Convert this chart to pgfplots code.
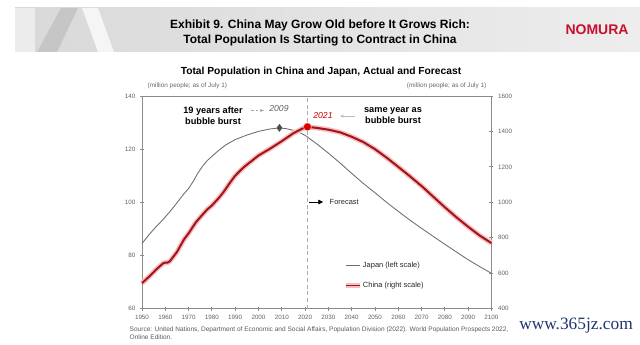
\documentclass[border=0pt]{standalone}
\usepackage{pgfplots}
\pgfplotsset{compat=1.18}
\usepackage{fontspec}
\setmainfont{Liberation Sans}
\newfontfamily\wmfont{Liberation Serif}
\usetikzlibrary{arrows.meta}
\definecolor{axgray}{HTML}{8A8A8A}
\definecolor{jpgray}{HTML}{6E6E6E}
\definecolor{cnred}{HTML}{A0141C}
\definecolor{cnglow}{HTML}{F7C0C0}
\definecolor{nomred}{HTML}{C8102E}
\definecolor{wmblue}{HTML}{1E3570}

\pgfplotstableread{
year pop
1950 84.5
1953 87.8
1956 90.8
1959 93.5
1962 96.5
1965 99.8
1968 103.2
1970 105.2
1972 107.9
1974 111.0
1976 113.6
1978 115.7
1980 117.3
1983 119.6
1986 121.6
1990 123.6
1995 125.3
2000 126.7
2005 127.6
2009 128.0
2012 127.7
2015 127.1
2018 126.1
2020 125.2
2025 122.0
2030 118.5
2035 114.8
2040 110.9
2045 107.1
2050 103.6
2055 100.0
2060 96.6
2065 93.3
2070 90.2
2075 87.2
2080 84.2
2085 81.3
2090 78.4
2095 75.8
2100 73.3
}\japan

\pgfplotstableread{
year pop
1950 544
1953 580
1956 620
1959 655
1960 660
1961 660
1962 668
1965 720
1968 790
1970 825
1973 885
1975 916
1978 960
1980 982
1983 1025
1985 1058
1988 1115
1990 1150
1993 1190
1995 1212
2000 1264
2005 1303
2010 1345
2015 1390
2020 1424
2021 1426
2025 1420
2030 1410
2035 1395
2040 1370
2045 1340
2050 1300
2055 1252
2060 1200
2065 1147
2070 1092
2075 1032
2080 972
2085 915
2090 862
2095 812
2100 770
}\china

\begin{document}
\begin{tikzpicture}
\begin{scope}[x=0.75pt,y=0.75pt]
% canvas
\path (0,0) rectangle (640,340);
% header banner
\shade[left color=gray!30, right color=gray!14] (15,288) rectangle (640,332);
\fill[white, opacity=0.5] (15,288) rectangle (35,332);
\fill[gray!45] (37,288) -- (57,288) -- (78,332) -- (61,332) -- cycle;
\fill[white!92!gray] (98,288) -- (114,288) -- (98,332) -- (82,332) -- cycle;
\node[font=\fontsize{9}{11}\selectfont\bfseries, align=center] at (320,307) {Exhibit 9. China May Grow Old before It Grows Rich:\\Total Population Is Starting to Contract in China};
\node[font=\fontsize{10.5}{12}\selectfont\bfseries, text=nomred] at (597,310) {NOMURA};
% chart title
\node[font=\fontsize{7.7}{9}\selectfont\bfseries] at (321,268) {Total Population in China and Japan, Actual and Forecast};
\node[font=\fontsize{4.8}{6}\selectfont, text=gray!80!black, anchor=west] at (143,254) {(million people; as of July 1)};
\node[font=\fontsize{4.8}{6}\selectfont, text=gray!80!black, anchor=east] at (491,254) {(million people; as of July 1)};
\end{scope}

\begin{axis}[
  at={(106.5pt,23.5pt)}, anchor=south west,
  scale only axis, width=262.1pt, height=159.5pt,
  xmin=1950, xmax=2100, ymin=60, ymax=140,
  axis y line*=left, axis x line*=bottom,
  xtick={1950,1960,...,2100}, ytick={60,80,...,140},
  x tick label style={/pgf/number format/1000 sep={}},
  /pgf/number format/assume math mode=true,
  tick label style={font=\fontsize{4.7}{5}\selectfont, text=gray!75!black},
  axis line style={axgray, line width=0.7pt},
  major tick style={axgray, line width=0.6pt},
  tick align=center, major tick length=3pt,
  every outer x axis line/.append style={-},
  every outer y axis line/.append style={-},
  clip=false,
]
\addplot[jpgray, line width=0.65pt] table[x=year,y=pop] {\japan};
\addplot[gray!65, densely dashed, line width=0.5pt] coordinates {(2021,60) (2021,140)};
\addplot[gray!60!black, only marks, mark=diamond*, mark size=2.6pt] coordinates {(2009,128.0)};
\draw[axgray, line width=0.7pt] (axis cs:1950,140) -- (axis cs:2100,140);
\end{axis}

\begin{axis}[
  at={(106.5pt,23.5pt)}, anchor=south west,
  scale only axis, width=262.1pt, height=159.5pt,
  xmin=1950, xmax=2100, ymin=400, ymax=1600,
  axis y line*=right, axis x line=none,
  ytick={400,600,...,1600},
  /pgf/number format/assume math mode=true,
  yticklabel style={/pgf/number format/1000 sep={}},
  tick label style={font=\fontsize{4.7}{5}\selectfont, text=gray!75!black},
  axis line style={axgray, line width=0.7pt},
  major tick style={axgray, line width=0.6pt},
  tick align=center, major tick length=3pt,
  every outer y axis line/.append style={-},
  clip=false,
  legend style={at={(0.575,0.085)}, anchor=south west, draw=none, fill=none,
    font=\fontsize{5.6}{7}\selectfont, text=gray!30!black, row sep=8pt,
    inner sep=0pt, cells={anchor=west}, nodes={inner sep=0.8pt}},
  legend cell align=left,
]
\addplot[cnglow, line width=3.8pt, forget plot] table[x=year,y=pop] {\china};
\addplot[cnred, line width=1.5pt, forget plot] table[x=year,y=pop] {\china};
\addplot[only marks, mark=*, mark size=3pt, draw=cnglow, fill=red!85!black, forget plot] coordinates {(2021,1426)};
\addlegendimage{legend image code/.code={
  \draw[jpgray, line width=0.65pt] (0cm,0cm) -- (0.37cm,0cm);}}
\addlegendentry{Japan (left scale)}
\addlegendimage{legend image code/.code={
  \draw[cnglow, line width=3.5pt] (0cm,0cm) -- (0.37cm,0cm);
  \draw[cnred, line width=1.4pt] (0cm,0cm) -- (0.37cm,0cm);}}
\addlegendentry{China (right scale)}
\end{axis}

\begin{scope}[x=0.75pt,y=0.75pt]
% annotations
\node[font=\fontsize{6.9}{8.2}\selectfont\bfseries, align=center] at (213,224) {19 years after\\bubble burst};
\draw[gray!70, -{Stealth[length=3pt]}, dash pattern=on 2pt off 1.5pt, line width=0.5pt] (251,229.5) -- (264,229.5);
\node[font=\fontsize{6.5}{8}\selectfont\itshape, text=gray!75!black] at (279,231) {2009};
\node[font=\fontsize{6.5}{8}\selectfont\itshape, text=red!80!black] at (323,224) {2021};
\draw[gray!55, -{Stealth[length=3pt]}, line width=0.5pt] (355,224) -- (340,224);
\node[font=\fontsize{6.9}{8.2}\selectfont\bfseries, align=center] at (393,224) {same year as\\bubble burst};
\draw[black, -{Triangle[length=3.5pt,width=3.5pt]}, line width=0.5pt] (309,138) -- (323,138);
\node[font=\fontsize{5.6}{7}\selectfont, text=gray!30!black, anchor=west] at (325,138) {Forecast};
% source
\node[font=\fontsize{4.9}{6}\selectfont, text=gray!70!black, anchor=north west, align=left] at (125,17.5) {Source: United Nations, Department of Economic and Social Affairs, Population Division (2022). World Population Prospects 2022,\\Online Edition.};
% watermark
\node[font=\wmfont\fontsize{13}{14}\selectfont, text=wmblue] at (576,14) {www.365jz.com};
\end{scope}
\end{tikzpicture}
\end{document}
